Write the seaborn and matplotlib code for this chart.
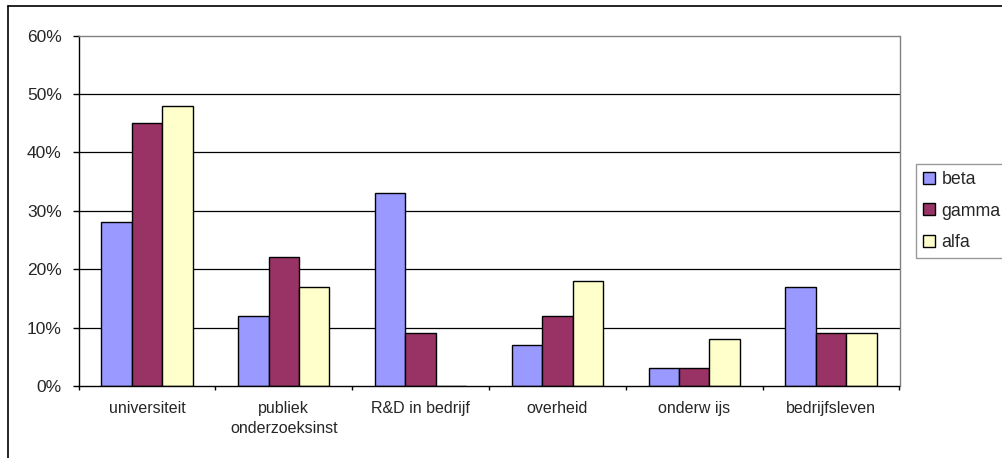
import numpy as np
import pandas as pd
import matplotlib
matplotlib.use("Agg")
import matplotlib.pyplot as plt
from matplotlib.lines import Line2D
import seaborn as sns

categories = ["universiteit", "publiek\nonderzoeksinst", "R&D in bedrijf",
              "overheid", "onderw ijs", "bedrijfsleven"]
series_names = ["beta", "gamma", "alfa"]
beta = [28, 12, 33, 7, 3, 17]
gamma = [45, 22, 9, 12, 3, 9]
alfa = [48, 17, 0, 18, 8, 9]
colors = ["#9999FF", "#993366", "#FFFFCC"]
yticks = [0, 10, 20, 30, 40, 50, 60]

rows = []
for name, vals in zip(series_names, [beta, gamma, alfa]):
    for c, v in zip(categories, vals):
        rows.append({"cat": c, "series": name, "val": v})
df = pd.DataFrame(rows)

sns.set_style("white")
plt.rcParams["font.family"] = ["Liberation Sans", "DejaVu Sans"]

W, H = 1002, 458
fig = plt.figure(figsize=(W / 100, H / 100), dpi=100)
ax = fig.add_axes([78.5 / W, 1 - 386 / H, (899.5 - 78.5) / W, (386 - 35.5) / H])

sns.barplot(data=df, x="cat", y="val", hue="series", order=categories,
            hue_order=series_names, palette=colors, saturation=1,
            edgecolor="black", linewidth=1.0, width=0.667, gap=0,
            errorbar=None, ax=ax, legend=True)

ax.set_xlim(-0.5, len(categories) - 0.5)
ax.set_ylim(yticks[0], yticks[-1])
ax.set_yticks(yticks)
ax.set_yticklabels([f"{t}%" for t in yticks])
for t in yticks[1:-1]:
    ax.axhline(t, color="black", lw=0.9, zorder=0.5)

ax.set_xlabel("")
ax.set_ylabel("")
for s in ["left", "bottom"]:
    ax.spines[s].set_color("black")
    ax.spines[s].set_linewidth(1.0)
for s in ["top", "right"]:
    ax.spines[s].set_color("#808080")
    ax.spines[s].set_linewidth(1.0)
    ax.spines[s].set_visible(True)

ax.set_xticks(range(len(categories)))
ax.set_xticklabels(categories, fontsize=11.5, linespacing=1.38)
ax.set_xticks(np.arange(-0.5, len(categories), 1.0), minor=True)
ax.tick_params(axis="x", which="major", length=0, pad=11)
ax.tick_params(axis="x", which="minor", length=3, width=1, color="black", direction="out", bottom=True)
ax.tick_params(axis="y", which="major", length=4, width=1, color="black", direction="out", left=True, pad=8, labelsize=12.5)

# legend
handles, labels = ax.get_legend_handles_labels()
ax.get_legend().remove()
leg = fig.legend(handles, labels, loc="upper left",
                 bbox_to_anchor=(915.5 / W, 1 - 164 / H), frameon=True,
                 fancybox=False, edgecolor="#808080", fontsize=12.8,
                 handlelength=0.66, handleheight=0.66, handletextpad=0.38,
                 labelspacing=0.8, borderpad=0.42, borderaxespad=0)
leg.get_frame().set_linewidth(1.0)
for h in leg.legend_handles:
    h.set_edgecolor("black")
    h.set_linewidth(1.0)

# outer chart frame (partially visible)
fig.add_artist(Line2D([7.5 / W, 7.5 / W], [0, 1 - 5.5 / H], transform=fig.transFigure, color="black", lw=1.2))
fig.add_artist(Line2D([7.5 / W, 1], [1 - 5.5 / H, 1 - 5.5 / H], transform=fig.transFigure, color="black", lw=1.2))

fig.savefig("out.png", dpi=100, facecolor="white")
